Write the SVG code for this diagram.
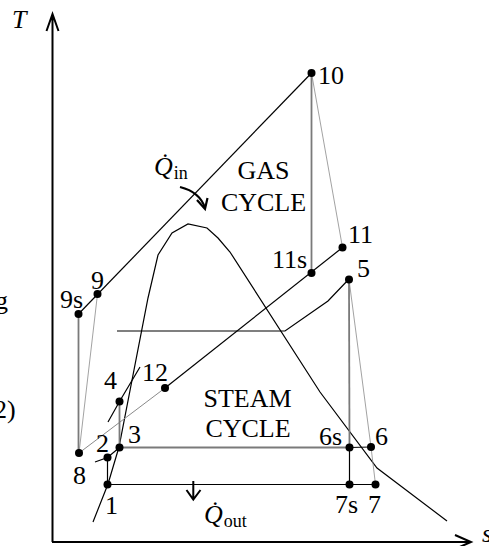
<svg xmlns="http://www.w3.org/2000/svg" width="489" height="546" viewBox="0 0 489 546">
<style>
.lbl{font-family:"Liberation Serif","Times New Roman",serif;font-size:26px;fill:#000}
.it{font-style:italic}
.sub{font-family:"Liberation Serif","Times New Roman",serif;font-size:18px;fill:#000}
.k{stroke:#000;stroke-width:1.2;fill:none}
.g{stroke:#7a7a7a;stroke-width:1.8;fill:none}
.t{stroke:#8a8a8a;stroke-width:1;fill:none}
.d{stroke:#8a8a8a;stroke-width:0.8;fill:none}
.ax{stroke:#000;stroke-width:2;fill:none}
.dot{fill:#000}
</style>
<rect width="489" height="546" fill="#fff"/>
<g id="axes">
<path class="ax" d="M52.5,542 V14 M46.5,31 L52.5,14 L58.5,31"/>
<path class="ax" d="M52,542 H471 M455,535 L471,542 L455,549"/>
<text class="lbl it" x="12" y="28" font-size="24">T</text>
<text class="lbl it" x="482" y="542">s</text>
</g>
<g id="clipped-text">
<text class="lbl" x="-5" y="309">g</text>
<text class="lbl" x="-6" y="418">2)</text>
</g>
<g id="dome">
<polyline class="k" points="93,522 108,484 119,447 148,298 158,255 172,233 188,224 207,228 218,238 230,252 320,392 377,468 447,521"/>
<polyline class="k" points="95,462 107.5,457.5 119.5,447.5"/>
<polyline class="k" points="108,422 119.5,401.5 140,367"/>
<polyline class="k" points="117,331 285,331 328,301 349,279"/>
</g>
<g id="connectors">
<line class="k" x1="78.5" y1="314" x2="311.5" y2="73"/>
<line class="g" x1="78.5" y1="314" x2="78.5" y2="453"/>
<line class="d" x1="97.5" y1="294" x2="79" y2="453"/>
<line class="g" x1="311.5" y1="73" x2="311.5" y2="273"/>
<line class="d" x1="311.5" y1="73" x2="342.5" y2="247.5"/>
<line class="t" x1="79" y1="453" x2="165" y2="388"/>
<line class="k" x1="165" y1="388" x2="342.5" y2="247.5"/>
<line class="g" x1="119.5" y1="401.5" x2="119.5" y2="447.5"/>
<line class="g" x1="119.5" y1="447.5" x2="349.5" y2="447.5"/>
<line class="k" x1="349.5" y1="447.5" x2="371" y2="447"/>
<line class="k" x1="107.5" y1="457.5" x2="107.5" y2="484.5"/>
<line class="k" x1="107.5" y1="484.5" x2="375.5" y2="484.5"/>
<line class="g" x1="349" y1="279.5" x2="349.5" y2="447.5"/>
<line class="k" x1="349.5" y1="447.5" x2="349.5" y2="484.5"/>
<line class="d" x1="349" y1="279.5" x2="371" y2="447"/>
<line class="d" x1="371" y1="447" x2="375.5" y2="484.5"/>
<path d="M180,187 Q200,192 205,208" stroke="#000" stroke-width="2.2" fill="none"/>
<polyline points="197,200 205,209 207.5,198" stroke="#000" stroke-width="2.2" fill="none"/>
<path d="M193.3,481 V499 M186.5,490 L193.3,499.5 L200.5,490" stroke="#000" stroke-width="2" fill="none"/>
</g>
<g id="n10"><circle class="dot" cx="311.5" cy="73" r="4"/><text class="lbl" x="318" y="84">10</text></g>
<g id="n11"><circle class="dot" cx="342.5" cy="247.5" r="4"/><text class="lbl" x="348" y="242.5">11</text></g>
<g id="n11s"><circle class="dot" cx="311.5" cy="273" r="4"/><text class="lbl" x="272" y="268">11s</text></g>
<g id="n5"><circle class="dot" cx="349" cy="279.5" r="4"/><text class="lbl" x="357" y="276.5">5</text></g>
<g id="n9"><circle class="dot" cx="97.5" cy="294" r="4"/><text class="lbl" x="91" y="289">9</text></g>
<g id="n9s"><circle class="dot" cx="78.5" cy="314" r="4"/><text class="lbl" x="60" y="308">9s</text></g>
<g id="n4"><circle class="dot" cx="119.5" cy="401.5" r="4"/><text class="lbl" x="104" y="389">4</text></g>
<g id="n12"><circle class="dot" cx="165" cy="388" r="4"/><text class="lbl" x="142" y="381">12</text></g>
<g id="n3"><circle class="dot" cx="119.5" cy="447.5" r="4"/><text class="lbl" x="128" y="443">3</text></g>
<g id="n2"><circle class="dot" cx="107.5" cy="457.5" r="4"/><text class="lbl" x="96" y="451.5">2</text></g>
<g id="n8"><circle class="dot" cx="79" cy="453" r="4"/><text class="lbl" x="73" y="484">8</text></g>
<g id="n1"><circle class="dot" cx="107.5" cy="484.5" r="4"/><text class="lbl" x="105" y="514">1</text></g>
<g id="n6s"><circle class="dot" cx="349.5" cy="447.5" r="4"/><text class="lbl" x="319" y="445">6s</text></g>
<g id="n6"><circle class="dot" cx="371" cy="447" r="4"/><text class="lbl" x="375" y="445">6</text></g>
<g id="n7s"><circle class="dot" cx="349.5" cy="484.5" r="4"/><text class="lbl" x="335" y="513">7s</text></g>
<g id="n7"><circle class="dot" cx="375.5" cy="484.5" r="4"/><text class="lbl" x="368" y="513">7</text></g>
<g id="labels">
<text class="lbl" x="263.5" y="179" text-anchor="middle">GAS</text>
<text class="lbl" x="263.5" y="210.5" text-anchor="middle">CYCLE</text>
<text class="lbl" x="247.5" y="406.5" text-anchor="middle">STEAM</text>
<text class="lbl" x="248" y="437" text-anchor="middle">CYCLE</text>
<text class="lbl" x="154" y="175"><tspan class="it">Q̇</tspan><tspan font-size="18" dy="4" dx="1">in</tspan></text>
<text class="lbl" x="204" y="523"><tspan class="it">Q̇</tspan><tspan font-size="18" dy="4" dx="1">out</tspan></text>
</g>
</svg>
